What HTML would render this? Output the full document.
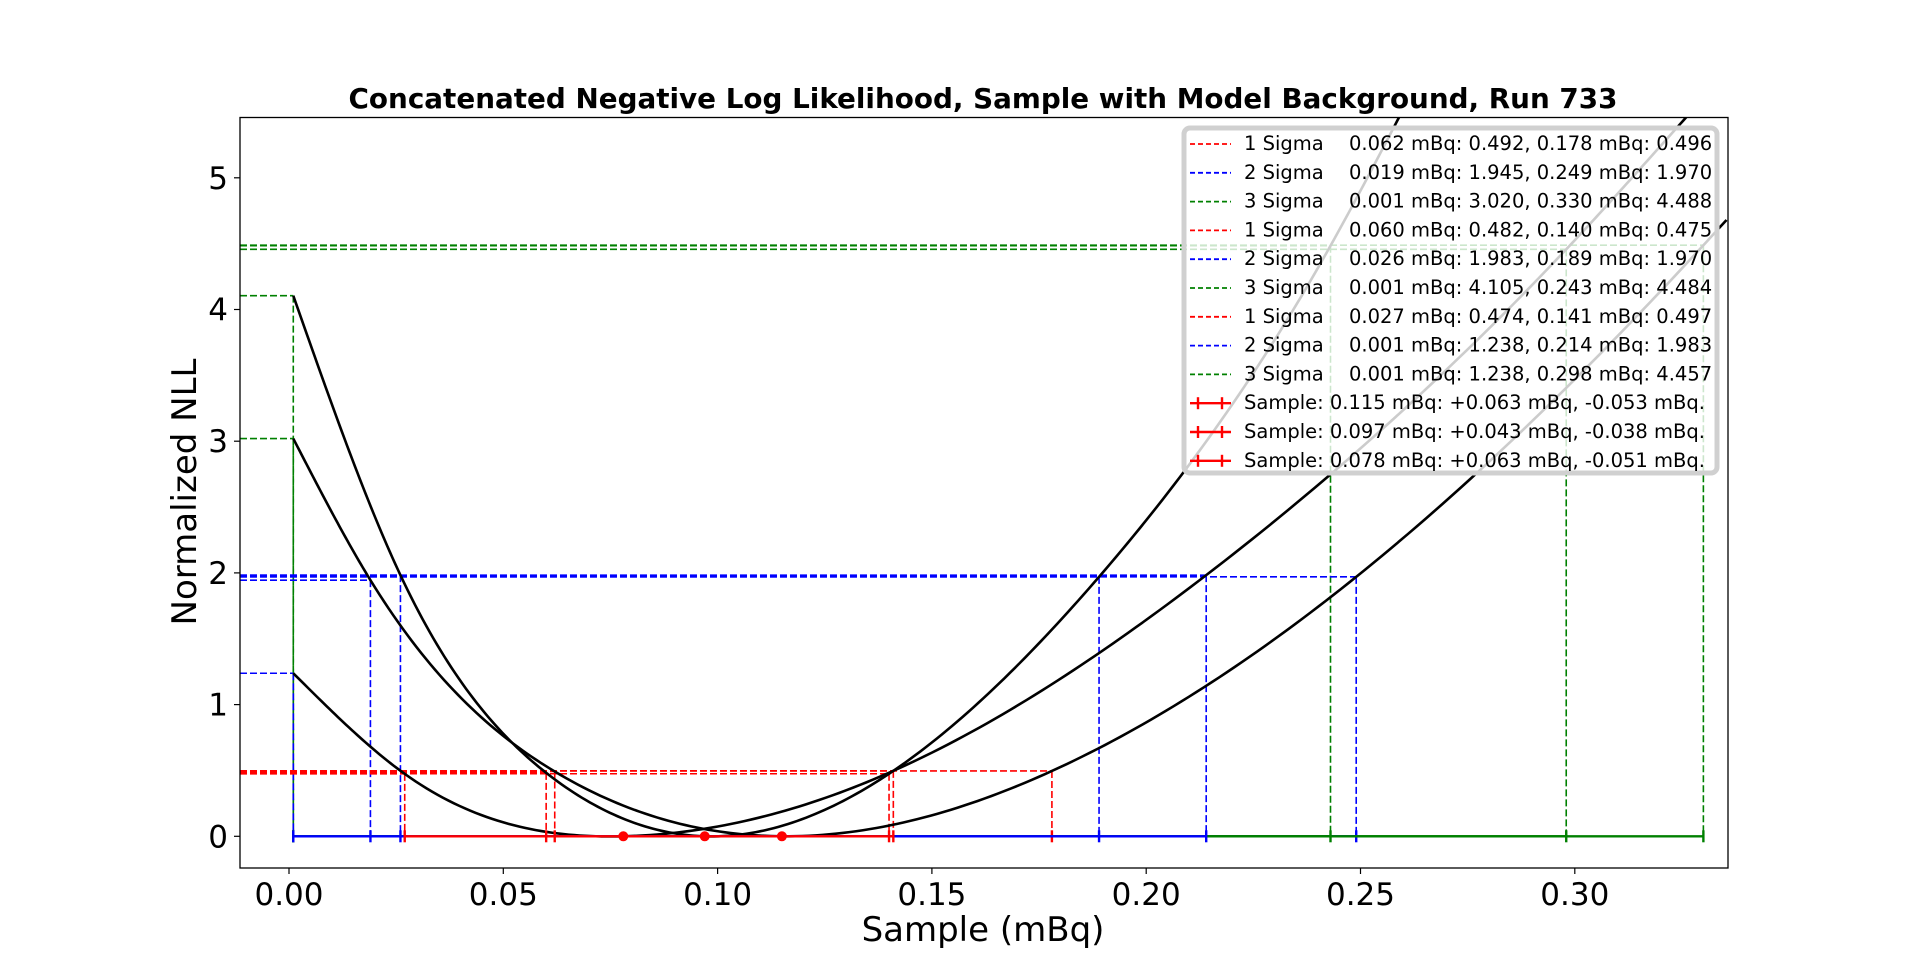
<!DOCTYPE html>
<html><head><meta charset="utf-8"><style>
html,body{margin:0;padding:0;background:#fff;}
svg{display:block;font-family:"Liberation Sans","DejaVu Sans",sans-serif;}
</style></head><body>
<svg id="chart" width="1920" height="975" viewBox="0 0 1920 975" xmlns="http://www.w3.org/2000/svg">
<text x="983" y="108" text-anchor="middle" font-size="27.8" font-weight="bold" font-family="DejaVu Sans, sans-serif">Concatenated Negative Log Likelihood, Sample with Model Background, Run 733</text>
<g id="plot"></g>
<text x="983" y="941" text-anchor="middle" font-size="34" font-family="DejaVu Sans, sans-serif">Sample (mBq)</text>
<text transform="translate(196,492) rotate(-90)" text-anchor="middle" font-size="34" font-family="DejaVu Sans, sans-serif">Normalized NLL</text>
</svg>
<script>
const xTicks=[0,0.05,0.10,0.15,0.20,0.25,0.30];
const xTickLabels=["0.00","0.05","0.10","0.15","0.20","0.25","0.30"];
const yTicks=[0,1,2,3,4,5];
const samples=[0.115,0.097,0.078];
const curveX1=[0.001,0.019,0.062,0.115,0.178,0.249,0.330,0.3354];
const curveY1=[3.020,1.945,0.492,0,0.496,1.970,4.488,4.68];
const curveX2=[0.001,0.026,0.060,0.097,0.140,0.189,0.243,0.259];
const curveY2=[4.105,1.983,0.482,0,0.475,1.970,4.484,5.46];
const curveX3=[0.001,0.027,0.078,0.141,0.214,0.298,0.326];
const curveY3=[1.238,0.474,0,0.497,1.983,4.457,5.46];
const sig1=[[0.062,0.492,0.178,0.496],[0.060,0.482,0.140,0.475],[0.027,0.474,0.141,0.497]];
const sig2=[[0.019,1.945,0.249,1.970],[0.026,1.983,0.189,1.970],[0.001,1.238,0.214,1.983]];
const sig3=[[0.001,3.020,0.330,4.488],[0.001,4.105,0.243,4.484],[0.001,1.238,0.298,4.457]];
const legendLabels=["1 Sigma","2 Sigma","3 Sigma","1 Sigma","2 Sigma","3 Sigma","1 Sigma","2 Sigma","3 Sigma"];
const legendValues=["0.062 mBq: 0.492, 0.178 mBq: 0.496","0.019 mBq: 1.945, 0.249 mBq: 1.970","0.001 mBq: 3.020, 0.330 mBq: 4.488","0.060 mBq: 0.482, 0.140 mBq: 0.475","0.026 mBq: 1.983, 0.189 mBq: 1.970","0.001 mBq: 4.105, 0.243 mBq: 4.484","0.027 mBq: 0.474, 0.141 mBq: 0.497","0.001 mBq: 1.238, 0.214 mBq: 1.983","0.001 mBq: 1.238, 0.298 mBq: 4.457"];
const sampleLabels=["Sample: 0.115 mBq: +0.063 mBq, -0.053 mBq.","Sample: 0.097 mBq: +0.043 mBq, -0.038 mBq.","Sample: 0.078 mBq: +0.063 mBq, -0.051 mBq."];

const L=240,R=1728,T=117.5,B=868;
const X0=289, PXU=4286;
const Y0=836.3, PYU=131.7;
const xs=v=>X0+v*PXU, ys=v=>Y0-v*PYU;
const NS="http://www.w3.org/2000/svg";
const plot=document.getElementById('plot');
function mk(tag,attrs,parent){const e=document.createElementNS(NS,tag);for(const k in attrs)e.setAttribute(k,attrs[k]);(parent||plot).appendChild(e);return e;}
const COL=["#ff0000","#0000ff","#008000"];
const clip=mk('clipPath',{id:'clipA'});mk('rect',{x:L,y:T,width:R-L,height:B-T},clip);
const g=mk('g',{'clip-path':'url(#clipA)'});



function drawSig(arr,col,name){
  arr.forEach(s=>{
    [[s[0],s[1]],[s[2],s[3]]].forEach(p=>{
      const h=mk('line',{x1:L,y1:ys(p[1]),x2:xs(p[0]),y2:ys(p[1]),stroke:col,'stroke-width':1.6,'stroke-dasharray':'7,3'},g);
      
      
      const v=mk('line',{x1:xs(p[0]),y1:ys(p[1]),x2:xs(p[0]),y2:ys(0),stroke:col,'stroke-width':1.6,'stroke-dasharray':'7,3'},g);
      
      
    });
  });
}
drawSig(sig3,COL[2],'sigma3');drawSig(sig2,COL[1],'sigma2');drawSig(sig1,COL[0],'sigma1');

// natural cubic spline
function spline(X,Y){
  const n=X.length,h=[],a=[],b=[],c=[],r=[],M=new Array(n).fill(0);
  for(let i=0;i<n-1;i++)h.push(X[i+1]-X[i]);
  const sub=[],diag=[],sup=[],rhs=[];
  for(let i=1;i<n-1;i++){sub.push(h[i-1]);diag.push(2*(h[i-1]+h[i]));sup.push(h[i]);
    rhs.push(6*((Y[i+1]-Y[i])/h[i]-(Y[i]-Y[i-1])/h[i-1]));}
  const m=diag.length;
  for(let i=1;i<m;i++){const w=sub[i]/diag[i-1];diag[i]-=w*sup[i-1];rhs[i]-=w*rhs[i-1];}
  const sol=new Array(m);
  for(let i=m-1;i>=0;i--){sol[i]=(rhs[i]-(i<m-1?sup[i]*sol[i+1]:0))/diag[i];}
  for(let i=0;i<m;i++)M[i+1]=sol[i];
  let s='';
  for(let i=0;i<n-1;i++){
    const N=40;
    for(let k=(i===0?0:1);k<=N;k++){
      const x=X[i]+h[i]*k/N,A=(X[i+1]-x)/h[i],Bq=(x-X[i])/h[i];
      const y=A*Y[i]+Bq*Y[i+1]+((A*A*A-A)*M[i]+(Bq*Bq*Bq-Bq)*M[i+1])*h[i]*h[i]/6;
      s+=(s?' L':'M')+xs(x).toFixed(2)+','+ys(y).toFixed(2);
    }
  }
  return s;
}
[[curveX1,curveY1],[curveX2,curveY2],[curveX3,curveY3]].forEach((c,i)=>{
  const p=mk('path',{d:spline(c[0],c[1]),fill:'none',stroke:'#000','stroke-width':2.6},g);
  
  
});

// error bars at y=0: per group green, blue, red
function ebar(a,b,col,name){
  const l=mk('line',{x1:xs(a),y1:ys(0),x2:xs(b),y2:ys(0),stroke:col,'stroke-width':2.4},g);
  
  
  [a,b].forEach(x=>{const c=mk('line',{x1:xs(x),y1:ys(0)-6,x2:xs(x),y2:ys(0)+6,stroke:col,'stroke-width':2.4},g);
    
    });
}
for(let k=0;k<3;k++){
  ebar(sig3[k][0],sig3[k][2],COL[2],'errorbar-3sigma');
  ebar(sig2[k][0],sig2[k][2],COL[1],'errorbar-2sigma');
  ebar(sig1[k][0],sig1[k][2],COL[0],'errorbar-1sigma');
}
samples.forEach(v=>{const c=mk('circle',{cx:xs(v),cy:ys(0),r:5,fill:COL[0]},g);
  
  });

const fr=mk('rect',{x:L,y:T,width:R-L,height:B-T,fill:'none',stroke:'#000','stroke-width':1.3});


xTicks.forEach((v,i)=>{
  const t=mk('line',{x1:xs(v),y1:B,x2:xs(v),y2:B+6,stroke:'#000','stroke-width':1.2});
  
  
  const tx=mk('text',{x:xs(v),y:B+37,'text-anchor':'middle','font-size':31,'font-family':'DejaVu Sans, sans-serif'});
  tx.textContent=xTickLabels[i];
  
  
});
yTicks.forEach(v=>{
  const t=mk('line',{x1:L-6,y1:ys(v),x2:L,y2:ys(v),stroke:'#000','stroke-width':1.2});
  
  
  const tx=mk('text',{x:L-12,y:ys(v)+11,'text-anchor':'end','font-size':31,'font-family':'DejaVu Sans, sans-serif'});
  tx.textContent=String(v);
  
  
});

const lg=mk('g',{});


mk('rect',{x:1184,y:128,width:533,height:345,rx:6,fill:'rgba(255,255,255,0.8)',stroke:'#d0d0d0','stroke-width':5},lg);
const rowY=i=>150+i*28.8;
legendLabels.forEach((lab,i)=>{
  const col=COL[i%3];
  const ln=mk('line',{x1:1190,y1:rowY(i)-6,x2:1231,y2:rowY(i)-6,stroke:col,'stroke-width':1.8,'stroke-dasharray':'5,3'},lg);
  
  
  const t1=mk('text',{x:1244,y:rowY(i),'font-size':19.5,'font-family':'DejaVu Sans, sans-serif'},lg);
  t1.textContent=lab;
  
  
  const t2=mk('text',{x:1349,y:rowY(i),'font-size':19.5,'font-family':'DejaVu Sans, sans-serif'},lg);
  t2.textContent=legendValues[i];
  
  
});
sampleLabels.forEach((lab,j)=>{
  const i=9+j,y=rowY(i)-6;
  mk('line',{x1:1190,y1:y,x2:1231,y2:y,stroke:COL[0],'stroke-width':2.4},lg);
  mk('line',{x1:1198,y1:y-6,x2:1198,y2:y+6,stroke:COL[0],'stroke-width':2.4},lg);
  mk('line',{x1:1222,y1:y-6,x2:1222,y2:y+6,stroke:COL[0],'stroke-width':2.4},lg);
  const t=mk('text',{x:1244,y:rowY(i),'font-size':19.5,'font-family':'DejaVu Sans, sans-serif'},lg);
  t.textContent=lab;
  
  
});
</script>
</body></html>
